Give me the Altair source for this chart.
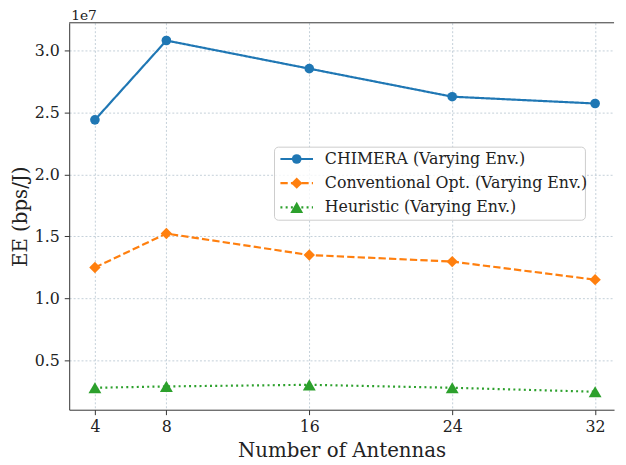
import altair as alt
import pandas as pd

antennas = [4, 8, 16, 24, 32]
series_names = [
    "CHIMERA (Varying Env.)",
    "Conventional Opt. (Varying Env.)",
    "Heuristic (Varying Env.)",
]
chimera = [2.44e7, 3.08e7, 2.853e7, 2.627e7, 2.572e7]
conventional = [1.249e7, 1.523e7, 1.350e7, 1.297e7, 1.151e7]
heuristic = [2.79e6, 2.90e6, 3.03e6, 2.79e6, 2.47e6]
y_ticks = [5e6, 1e7, 1.5e7, 2e7, 2.5e7, 3e7]

colors = ["#1f77b4", "#ff7f0e", "#2ca02c"]
dashes = [[1, 0], [7.4, 3.2], [2, 3.3]]
shapes = ["circle", "diamond", "triangle-up"]
sizes = [95, 170, 130]

rows = []
for name, vals in zip(series_names, [chimera, conventional, heuristic]):
    for a, v in zip(antennas, vals):
        rows.append({"antennas": a, "series": name, "value": v})
df = pd.DataFrame(rows)
leg = pd.DataFrame({"series": series_names, "row": [0, 1, 2]})

W, H = 552, 392
FONT = "DejaVu Serif"

color_s = alt.Color("series:N", scale=alt.Scale(domain=series_names, range=colors), legend=None)
dash_s = alt.StrokeDash("series:N", scale=alt.Scale(domain=series_names, range=dashes), legend=None)
shape_s = alt.Shape("series:N", scale=alt.Scale(domain=series_names, range=shapes), legend=None)
size_s = alt.Size("series:N", scale=alt.Scale(domain=series_names, range=sizes), legend=None)

x_enc = alt.X(
    "antennas:Q",
    scale=alt.Scale(domain=[2.56, 33.06], nice=False, zero=False),
    axis=alt.Axis(values=antennas, title="Number of Antennas", format="d",
                  labelPadding=4, titlePadding=6),
)
y_enc = alt.Y(
    "value:Q",
    scale=alt.Scale(domain=[1.02e6, 3.223e7], nice=False, zero=False),
    axis=alt.Axis(values=y_ticks, title="EE (bps/J)",
                  labelExpr="format(datum.value / 1e7, '.1f')",
                  labelPadding=5, titlePadding=4, titleFontSize=20),
)

lines = alt.Chart(df).mark_line(strokeWidth=2.2).encode(
    x=x_enc, y=y_enc, color=color_s, strokeDash=dash_s
)
points = alt.Chart(df).mark_point(filled=True, opacity=1).encode(
    x="antennas:Q", y="value:Q", color=color_s, shape=shape_s, size=size_s
)
main = alt.layer(lines, points)

ly = alt.Y("row:Q", scale=alt.Scale(domain=[0, 2], range=[138, 187]), axis=None)

box = alt.Chart(pd.DataFrame({"a": [0]})).mark_rect(
    fill="white", fillOpacity=0.8, stroke="#cccccc", strokeWidth=1, cornerRadius=4
).encode(x=alt.value(208), x2=alt.value(523), y=alt.value(126), y2=alt.value(200))

leg_lines = alt.Chart(leg).mark_rule(strokeWidth=2.2).encode(
    x=alt.value(214), x2=alt.value(247), y=ly, color=color_s, strokeDash=dash_s
)
leg_pts = alt.Chart(leg).mark_point(filled=True, opacity=1).encode(
    x=alt.value(230.5), y=ly, color=color_s, shape=shape_s, size=size_s
)
leg_txt = alt.Chart(leg).mark_text(
    align="left", baseline="middle", font=FONT, fontSize=16, color="#222"
).encode(x=alt.value(259), y=ly, text="series:N")
legend = alt.layer(box, leg_lines, leg_pts, leg_txt)

border = alt.Chart(pd.DataFrame({"a": [0]})).mark_rule(color="#333", strokeWidth=1).encode(
    x=alt.value(0), x2=alt.value(W), y=alt.value(0)
)
exp_txt = alt.Chart(pd.DataFrame({"t": ["1e7"]})).mark_text(
    align="left", baseline="alphabetic", font=FONT, fontSize=14, color="#222"
).encode(x=alt.value(2), y=alt.value(-3), text="t:N")

chart = alt.layer(main, legend, border, exp_txt).resolve_scale(y="independent").properties(
    width=W, height=H,
    autosize=alt.AutoSizeParams(type="none"),
    padding={"left": 62, "top": 12, "right": 4, "bottom": 52},
).configure_view(stroke=None).configure_axis(
    labelFont=FONT, titleFont=FONT, labelFontSize=16, titleFontSize=20,
    titleFontWeight="normal", labelColor="#222", titleColor="#222",
    domainColor="#333", domainWidth=1, tickColor="#333", tickSize=5, tickWidth=1,
    grid=True, gridColor="#b4c3cf", gridDash=[2, 2], gridWidth=0.8,
)

chart.save("out.html", embed_options={"renderer": "svg", "actions": False})
